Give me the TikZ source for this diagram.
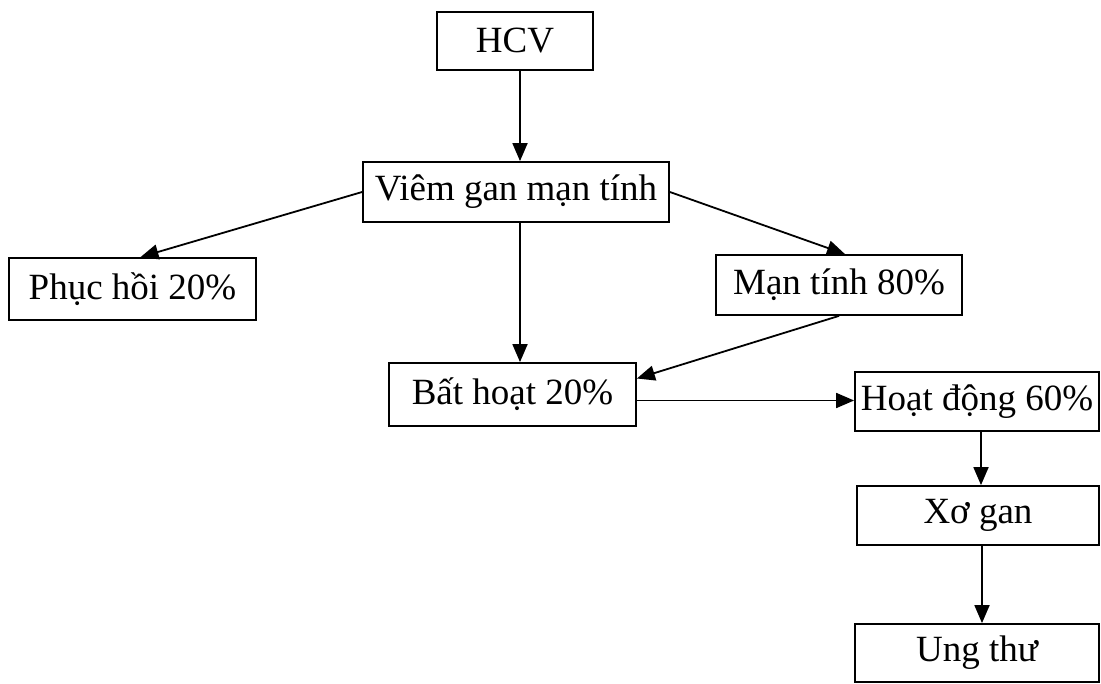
\documentclass[tikz,border=0pt]{standalone}
\usepackage{fontspec}
\setmainfont{Liberation Serif}
\usetikzlibrary{arrows.meta,calc}
\tikzset{
  box/.style={
    draw,
    line width=1.8pt,
    shape=rectangle,
    inner sep=0pt,
    font=\fontsize{37}{42}\selectfont
  },
  flow/.style={
    line width=1.8pt,
    -{Triangle[length=18pt,width=15pt]}
  }
}

\begin{document}
\begin{tikzpicture}[x=1pt,y=-1pt]
    \useasboundingbox (0,0) rectangle (1101,684);
    % boxes
    \node[box,minimum width=156pt,minimum height=58pt] (hcv) at (515,41) {HCV};
    \node[box,minimum width=306pt,minimum height=60pt] (viem) at (516,192) {Viêm gan mạn tính};
    \node[box,minimum width=247pt,minimum height=62pt] (phuchoi) at (132.5,289) {Phục hồi 20\%};
    \node[box,minimum width=246pt,minimum height=60pt] (mantinh) at (839,285) {Mạn tính 80\%};
    \node[box,minimum width=247pt,minimum height=63pt] (bathoat) at (512.5,394.5) {Bất hoạt 20\%};
    \node[box,minimum width=244pt,minimum height=59pt] (hoatdong) at (977,401.5) {Hoạt động 60\%};
    \node[box,minimum width=242pt,minimum height=59pt] (xogan) at (978,515.5) {Xơ gan};
    \node[box,minimum width=244pt,minimum height=58pt] (ungthu) at (977,653) {Ung thư};
    % arrows
    \draw[flow] ([xshift=5pt]hcv.south) -- ([xshift=5pt]hcv.south |- viem.north);
    \draw[flow] (viem.west) -- ([xshift=8pt]phuchoi.north);
    \draw[flow] (viem.east) -- ([xshift=6pt]mantinh.north);
    \draw[flow] ([xshift=4pt]viem.south) -- ([xshift=4pt]viem.south |- bathoat.north);
    \draw[flow] (mantinh.south) -- ([yshift=16pt]bathoat.east);
    \draw[flow] ([yshift=-6pt]bathoat.east) -- ([yshift=-6pt]bathoat.east -| hoatdong.west);
    \draw[flow] ([xshift=4pt]hoatdong.south) -- ([xshift=4pt]hoatdong.south |- xogan.north);
    \draw[flow] ([xshift=4pt]xogan.south) -- ([xshift=4pt]xogan.south |- ungthu.north);
\end{tikzpicture}
\end{document}
